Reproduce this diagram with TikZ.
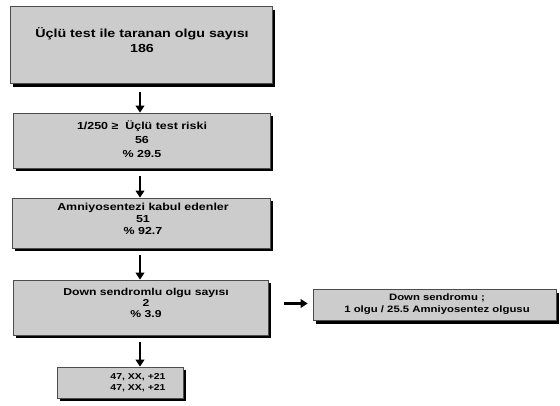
\documentclass[tikz,border=0pt]{standalone}
\usepackage{fontspec}
\setmainfont[FakeStretch=1.22]{Liberation Sans}
\usetikzlibrary{arrows.meta,shadows}
\begin{document}
\begin{tikzpicture}[x=1pt,y=-1pt,
  box/.style={draw=black!70,line width=0.6pt,fill=black!20,inner sep=0pt,
    drop shadow={shadow xshift=3pt,shadow yshift=-3pt,fill=black,opacity=1}},
  txt/.style={align=center,inner sep=0pt,font=\bfseries\fontsize{10.2}{12}\selectfont},
  arr/.style={line width=2.6pt,-{Triangle[length=7pt,width=8.5pt]}}]
\useasboundingbox (0,0) rectangle (560,405);
\node[box,minimum width=262pt,minimum height=77pt] (b1) at (141,45) {};
\node[box,minimum width=257pt,minimum height=55pt] (b2) at (141.5,140.5) {};
\node[box,minimum width=258pt,minimum height=50pt] (b3) at (141,223) {};
\node[box,minimum width=255pt,minimum height=55pt] (b4) at (140.5,307.5) {};
\node[box,minimum width=126pt,minimum height=31pt] (b5) at (120,382.5) {};
\node[box,minimum width=243pt,minimum height=31pt] (b6) at (434.5,305) {};
\node[txt,font=\bfseries\fontsize{11.7}{15}\selectfont] (t1) at (142,40.5)
  {Üçlü test ile taranan olgu sayısı\\186};
\node[txt,font=\bfseries\fontsize{10.2}{14}\selectfont] (t2) at (142,139)
  {1/250 ≥\ \ Üçlü test riski\\56\\\% 29.5};
\node[txt,font=\bfseries\fontsize{10.2}{12}\selectfont] (t3) at (143,219)
  {Amniyosentezi kabul edenler\\51\\\% 92.7};
\node[txt,font=\bfseries\fontsize{10}{11.2}\selectfont] (t4) at (146,303)
  {Down sendromlu olgu sayısı\\2\\\% 3.9};
\node[txt,font=\bfseries\fontsize{8.6}{11}\selectfont] (t5) at (138,382.5)
  {47, XX, +21\\47, XX, +21};
\node[txt,font=\bfseries\fontsize{9.3}{12}\selectfont] (t6) at (437,304)
  {Down sendromu ;\\1 olgu / 25.5 Amniyosentez olgusu};
\coordinate (a1) at ([yshift=-8pt]b1.south -| 140,0);
\coordinate (a2) at ([yshift=-8pt]b2.south -| 140,0);
\coordinate (a3) at ([yshift=-7pt]b3.south -| 140,0);
\coordinate (a4) at ([yshift=-7pt]b4.south -| 140,0);
\coordinate (a5) at ([xshift=16pt,yshift=4pt]b4.east);
\coordinate (e5) at ([xshift=-5pt]a5 -| b6.west);
\draw[arr] (a1) -- (a1 |- b2.north);
\draw[arr] (a2) -- (a2 |- b3.north);
\draw[arr] (a3) -- (a3 |- b4.north);
\draw[arr] (a4) -- (a4 |- b5.north);
\draw[arr] (a5) -- (e5);
\end{tikzpicture}
\end{document}
